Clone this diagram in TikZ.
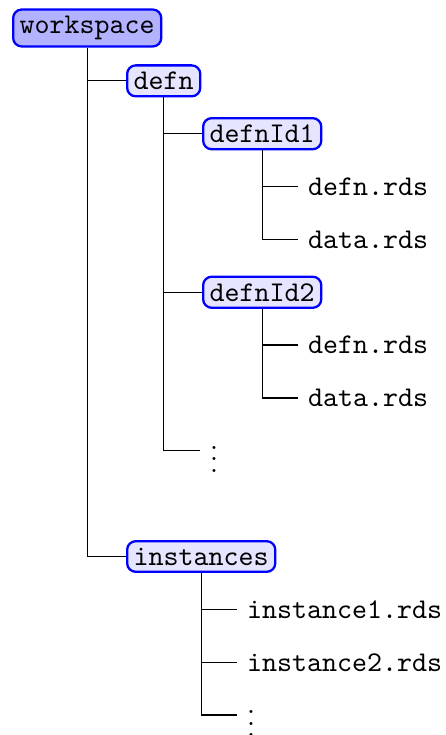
\documentclass[tikz,border=0pt]{standalone}
\usepackage{fontspec}
\tikzset{
  folder/.style={draw=blue, thick, rounded corners=3pt, fill=blue!10, inner sep=2.3pt, font=\ttfamily, anchor=west},
  rootfolder/.style={folder, fill=blue!30},
  file/.style={font=\ttfamily, anchor=west},
  more/.style={anchor=west},
  link/.style={draw=black, line width=0.45pt}
}
\begin{document}
\begin{tikzpicture}[x=0.35pt,y=-0.35pt]
\useasboundingbox (0,0) rectangle (445,735);
\node[rootfolder] (ws) at (12,28) {workspace};
\node[folder] (defn) at (126,80.85) {defn};
\node[folder] (id1) at (202,133.7) {defnId1};
\node[file] (d1) at (298,186.55) {defn.rds};
\node[file] (a1) at (298,239.4) {data.rds};
\node[folder] (id2) at (202,292.25) {defnId2};
\node[file] (d2) at (298,345.1) {defn.rds};
\node[file] (a2) at (298,397.95) {data.rds};
\node[more] (m1) at (200,450.8) {$\vdots$};
\node[folder] (inst) at (126,556.5) {instances};
\node[file] (i1) at (237,609.35) {instance1.rds};
\node[file] (i2) at (237,662.2) {instance2.rds};
\node[more] (m2) at (237,715.05) {$\vdots$};
\draw[link] (ws.south) |- (defn.west);
\draw[link] (ws.south) |- (inst.west);
\draw[link] (defn.south) |- (id1.west);
\draw[link] (defn.south) |- (id2.west);
\draw[link] (defn.south) |- (m1.west);
\draw[link] (id1.south) |- (d1.west);
\draw[link] (id1.south) |- (a1.west);
\draw[link] (id2.south) |- (d2.west);
\draw[link] (id2.south) |- (a2.west);
\draw[link] (inst.south) |- (i1.west);
\draw[link] (inst.south) |- (i2.west);
\draw[link] (inst.south) |- (m2.west);
\end{tikzpicture}
\end{document}
